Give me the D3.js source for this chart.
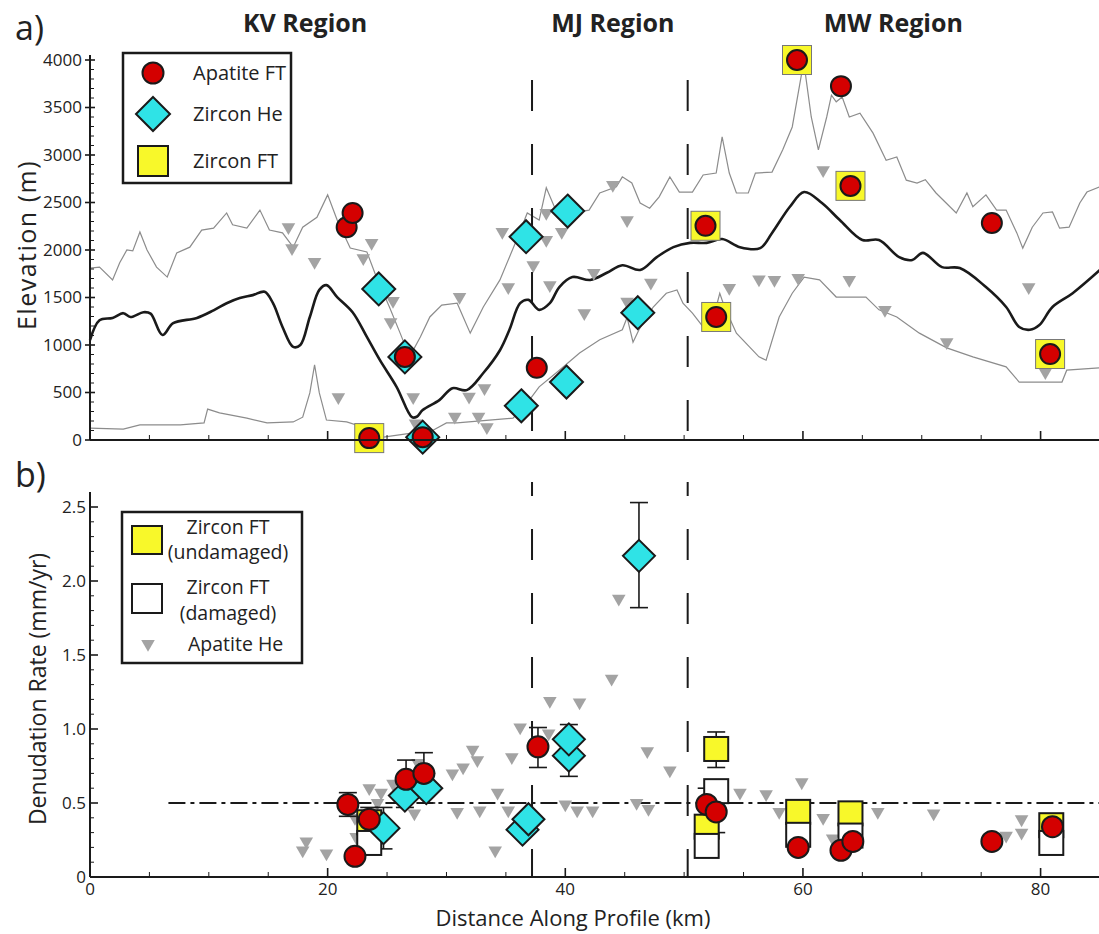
<!DOCTYPE html>
<html>
<head>
<meta charset="utf-8">
<script src="https://cdn.jsdelivr.net/npm/d3@7"></script>
<style>
  body { margin: 0; background: #fff; }
  svg { display: block; }
  text { font-family: "Open Sans", sans-serif; fill: #222; }
</style>
</head>
<body>
<svg id="chart" width="1099" height="934"></svg>
<script>
// ---------- Data ----------
// Swath elevation profiles along the transect: [distance km, elevation m]
const meanProfile = [[0,1050],[0.8,1260],[1.9,1285],[2.8,1335],[3.4,1295],[4.5,1345],[5.1,1330],[6.1,1105],[7.0,1230],[9.0,1285],[10.4,1365],[11.5,1440],[12.6,1495],[13.7,1525],[14.7,1560],[15.4,1440],[16.2,1190],[17.1,980],[17.7,1000],[18.5,1295],[19.3,1580],[19.9,1630],[20.8,1505],[22.1,1345],[23.3,1085],[24.4,840],[25.8,560],[27.1,240],[27.5,245],[28.0,315],[29.4,420],[30.5,545],[31.7,525],[33.1,705],[34.5,945],[35.3,1160],[36.2,1440],[36.9,1475],[37.8,1370],[38.7,1440],[39.5,1610],[40.6,1715],[42.1,1685],[43.5,1760],[44.8,1840],[46.3,1790],[47.7,1925],[49.1,2030],[50.5,2075],[51.9,2075],[53.2,2115],[54.7,2030],[56.4,2020],[57.4,2180],[58.9,2455],[60.1,2610],[61.6,2495],[63.1,2315],[65.0,2105],[66.4,2105],[68.1,1925],[69.2,1895],[70.1,1970],[71.7,1820],[73.2,1810],[75.4,1610],[77.1,1400],[78.2,1190],[79.1,1160],[79.9,1210],[81.0,1400],[82.7,1545],[85,1790]];
const maxProfile = [[0,1810],[0.8,1820],[1.9,1685],[2.5,1865],[3.1,2000],[3.6,1990],[4.2,2190],[4.8,2000],[5.6,1820],[6.5,1715],[7.3,1970],[8.4,2030],[9.4,2210],[10.4,2230],[11.5,2390],[12.0,2265],[13.2,2230],[14.3,2420],[15.1,2210],[16.2,2180],[17.1,2030],[17.9,2240],[19.1,2345],[20.0,2580],[20.8,2315],[21.9,2020],[23.3,1980],[24.1,1715],[25.2,1400],[26.1,1125],[26.9,875],[27.8,1085],[28.6,1295],[29.6,1420],[30.9,1440],[32.0,1125],[33.1,1400],[34.5,1685],[35.9,2105],[36.8,2390],[37.8,2315],[38.4,2655],[39.3,2390],[40.6,2390],[42.0,2420],[42.9,2600],[44.3,2665],[44.8,2770],[45.6,2705],[46.3,2495],[47.1,2440],[47.9,2560],[48.8,2770],[49.6,2610],[50.7,2610],[51.6,2790],[52.7,2810],[53.2,3190],[53.8,2810],[54.4,2600],[55.4,2600],[56.0,2810],[57.4,2820],[58.3,3055],[59.1,3295],[59.9,3865],[60.2,3860],[60.7,3400],[61.3,3055],[62.0,3400],[62.4,3630],[62.8,3560],[63.3,3610],[63.9,3400],[64.8,3440],[65.9,3230],[67.0,2945],[67.9,2980],[68.7,2735],[69.6,2705],[70.3,2740],[71.2,2600],[72.9,2390],[73.8,2600],[74.3,2455],[75.4,2580],[76.3,2420],[77.1,2420],[78.0,2180],[78.5,2020],[79.3,2240],[80.2,2390],[81.0,2400],[81.6,2230],[82.4,2240],[83.3,2495],[83.9,2610],[85,2665]];
const minProfile = [[0,125],[2.8,115],[4.2,160],[7.6,160],[9.6,180],[9.9,325],[10.9,285],[13.2,230],[14.9,180],[17.1,190],[17.9,240],[18.5,495],[18.9,790],[19.3,495],[19.9,210],[21.6,190],[23.0,135],[23.5,55],[24.7,30],[27.2,75],[28.6,85],[30.0,180],[30.9,180],[33.6,210],[35.6,230],[36.8,390],[37.8,560],[39.5,735],[41.2,915],[42.9,1055],[44.8,1160],[45.2,1290],[45.7,1030],[46.2,1160],[47.4,1400],[48.5,1545],[49.4,1580],[49.9,1440],[50.7,1335],[51.6,1190],[52.7,1400],[53.0,1545],[53.4,1400],[54.4,1125],[55.5,980],[56.3,875],[56.9,840],[58.0,1295],[59.1,1545],[60.1,1715],[61.4,1685],[62.8,1505],[65.3,1505],[66.4,1370],[67.9,1295],[69.8,1125],[72.1,970],[74.3,875],[77.1,770],[78.2,610],[81.8,610],[82.2,735],[85,760]];

// Thermochronometer sample elevations: [distance km, elevation m]
const apatiteFTElev = [[21.6,2240],[22.1,2390],[23.5,20],[26.5,875],[28.0,30],[37.6,760],[51.8,2255],[52.7,1295],[59.5,4000],[63.2,3725],[64.0,2675],[75.9,2285],[80.8,905]];
const zirconHeElev  = [[24.3,1590],[26.5,875],[28.0,30],[36.3,360],[36.7,2140],[40.1,610],[40.2,2410],[46.1,1340]];
const zirconFTElev  = [[23.5,20],[51.8,2255],[52.7,1295],[59.5,4000],[64.0,2675],[80.8,905]];
const apatiteHeElev = [[16.7,2240],[17.0,2020],[18.9,1875],[20.9,450],[23.0,1915],[23.7,2075],[25.3,1240],[25.5,1465],[27.2,450],[27.4,175],[30.7,245],[31.1,1505],[31.9,455],[32.7,245],[33.2,545],[33.4,135],[34.7,2190],[35.2,1610],[37.3,1840],[38.4,2390],[38.4,2105],[38.7,1630],[39.7,2190],[41.6,1335],[42.4,1760],[44.0,2685],[45.2,2315],[45.2,1455],[47.2,1655],[53.8,1600],[56.3,1690],[57.6,1685],[59.6,1705],[61.7,2840],[63.9,1685],[66.9,1370],[72.1,1030],[79.0,1610],[80.4,715]];

// Denudation rates: [distance km, rate mm/yr, low, high]
const apatiteFTRate = [[21.7,0.49,0.41,0.57],[22.3,0.14,0.14,0.14],[23.5,0.39,0.30,0.47],[26.6,0.66,0.53,0.79],[28.1,0.70,0.56,0.84],[37.7,0.88,0.74,1.01],[51.9,0.49,0.37,0.60],[52.7,0.44,0.30,0.575],[59.6,0.20,0.20,0.20],[63.2,0.18,0.18,0.18],[64.2,0.24,0.24,0.24],[75.9,0.24,0.24,0.24],[81.0,0.34,0.34,0.34]];
const zirconHeRate  = [[24.7,0.33,0.19,0.47],[26.5,0.55,0.47,0.63],[28.3,0.60,0.50,0.70],[36.4,0.32,0.32,0.32],[36.9,0.39,0.39,0.39],[40.3,0.82,0.68,0.92],[40.3,0.93,0.83,1.03],[46.2,2.17,1.82,2.53]];
const zirconFTUndamagedRate = [[23.5,0.37,0.37,0.37],[51.9,0.34,0.34,0.34],[52.7,0.865,0.74,0.98],[59.6,0.44,0.44,0.44],[64.0,0.43,0.43,0.43],[80.9,0.35,0.35,0.35]];
const zirconFTDamagedRate   = [[23.5,0.23,0.23,0.23],[51.9,0.21,0.21,0.21],[52.7,0.58,0.58,0.58],[59.6,0.285,0.285,0.285],[64.0,0.28,0.28,0.28],[80.9,0.23,0.23,0.23]];
const apatiteHeRate = [[17.9,0.18],[18.2,0.24],[19.9,0.16],[22.3,0.40],[22.4,0.27],[23.5,0.60],[24.2,0.50],[24.5,0.57],[25.5,0.63],[27.3,0.43],[27.6,0.77],[30.5,0.70],[30.9,0.44],[31.4,0.74],[32.2,0.86],[32.6,0.79],[32.8,0.45],[34.1,0.18],[34.3,0.57],[35.2,0.45],[35.5,0.81],[36.2,1.01],[38.6,0.97],[38.7,1.19],[40.0,0.49],[41.0,0.45],[41.2,1.18],[42.3,0.45],[43.9,1.34],[44.5,1.88],[46.0,0.50],[46.9,0.85],[47.0,0.46],[48.8,0.72],[54.7,0.57],[56.9,0.56],[58.0,0.44],[59.9,0.64],[61.7,0.40],[62.5,0.26],[66.3,0.44],[71.0,0.43],[77.1,0.28],[78.4,0.39],[78.4,0.30]];

// Region boundaries and labels
const regionBounds = [37.2, 50.3];
const regionNames = ["KV Region", "MJ Region", "MW Region"];
const regionLabelKm = [18.1, 44.0, 67.6];
// Reference denudation rate line
const refRate = 0.5;
const refStartKm = 6.6;

// Axis ticks
const elevTicks = [0,500,1000,1500,2000,2500,3000,3500,4000];
const rateTicks = [0,0.5,1.0,1.5,2.0,2.5];
const distTicks = [0,20,40,60,80];

// ---------- Layout ----------
const svg = d3.select("#chart");
const x = d3.scaleLinear().domain([0, 85]).range([90, 1100]);
const yTop = d3.scaleLinear().domain([0, 4000]).range([440, 60]);
const yBot = d3.scaleLinear().domain([0, 2.5]).range([877, 507]);

const RED = "#d40000", CYAN = "#2fe3e6", YELLOW = "#f8f82a", GRAY = "#a3a3a3", INK = "#1a1a1a";

const diamond = r => `M0,${-r}L${r},0L0,${r}L${-r},0Z`;
const triDown = d3.symbol().type(d3.symbolTriangle).size(80);

// ---------- Axes helpers ----------
function yAxis(scale, ticks, fmt, top, majIn, majOut, pad) {
  const g = svg.append("g").attr("transform", "translate(90,0)");
  const [d0, d1] = scale.domain();
  const step = (ticks[1] - ticks[0]) / 5;
  const minor = d3.range(0, Math.round((d1 - d0) / step) + 1).map(i => d0 + i * step)
    .filter(v => !ticks.some(t => Math.abs(t - v) < step / 10));
  g.selectAll(".mn").data(minor).join("line")
    .attr("x1", 0).attr("x2", 4).attr("y1", d => scale(d)).attr("y2", d => scale(d))
    .attr("stroke", INK).attr("stroke-width", 1);
  g.selectAll(".mj").data(ticks).join("line")
    .attr("x1", -majOut).attr("x2", majIn).attr("y1", d => scale(d)).attr("y2", d => scale(d))
    .attr("stroke", INK).attr("stroke-width", 1.6);
  g.selectAll(".lb").data(ticks).join("text")
    .attr("x", -pad).attr("y", d => scale(d)).attr("dy", "0.35em")
    .attr("text-anchor", "end").attr("font-size", 17).text(fmt);
  g.append("line").attr("x1", 0).attr("x2", 0).attr("y1", scale(0)).attr("y2", top)
    .attr("stroke", INK).attr("stroke-width", 2);
}
function xAxis(yPos, labels) {
  const g = svg.append("g").attr("transform", `translate(0,${yPos})`);
  const minor = d3.range(0, 86, 5).filter(v => v % 20 !== 0);
  g.selectAll(".mn").data(minor).join("line")
    .attr("x1", d => x(d)).attr("x2", d => x(d)).attr("y1", 0).attr("y2", -5)
    .attr("stroke", INK).attr("stroke-width", 1);
  g.selectAll(".mj").data(distTicks).join("line")
    .attr("x1", d => x(d)).attr("x2", d => x(d)).attr("y1", 0).attr("y2", -9)
    .attr("stroke", INK).attr("stroke-width", 1.6);
  if (labels) {
    g.selectAll(".lb").data(distTicks).join("text")
      .attr("x", d => x(d)).attr("y", 18).attr("text-anchor", "middle")
      .attr("font-size", 17).text(d => d);
  }
  g.append("line").attr("x1", 90).attr("x2", 1099).attr("y1", 0).attr("y2", 0)
    .attr("stroke", INK).attr("stroke-width", 2);
}

// ---------- Panel a: elevation ----------
const lineTop = d3.line().x(d => x(d[0])).y(d => yTop(d[1]));
svg.append("path").datum(maxProfile).attr("d", lineTop)
  .attr("fill", "none").attr("stroke", "#8c8c8c").attr("stroke-width", 1.2);
svg.append("path").datum(minProfile).attr("d", lineTop)
  .attr("fill", "none").attr("stroke", "#8c8c8c").attr("stroke-width", 1.2);
svg.append("path").datum(meanProfile).attr("d", lineTop.curve(d3.curveCatmullRom))
  .attr("fill", "none").attr("stroke", INK).attr("stroke-width", 2.6);

// region boundaries
regionBounds.forEach(k => {
  svg.append("line").attr("x1", x(k)).attr("x2", x(k)).attr("y1", 80).attr("y2", 440)
    .attr("stroke", INK).attr("stroke-width", 2).attr("stroke-dasharray", "31,33");
  svg.append("line").attr("x1", x(k)).attr("x2", x(k)).attr("y1", 482).attr("y2", 877)
    .attr("stroke", INK).attr("stroke-width", 2).attr("stroke-dasharray", "31,33")
    .attr("stroke-dashoffset", 17);
});

svg.selectAll(".ahe").data(apatiteHeElev).join("path")
  .attr("d", triDown).attr("transform", d => `translate(${x(d[0])},${yTop(d[1])}) rotate(180)`)
  .attr("fill", GRAY);
svg.selectAll(".zft").data(zirconFTElev).join("rect")
  .attr("x", d => x(d[0]) - 14.5).attr("y", d => yTop(d[1]) - 14.5)
  .attr("width", 29).attr("height", 29)
  .attr("fill", YELLOW).attr("stroke", "#777").attr("stroke-width", 1);
svg.selectAll(".zhe").data(zirconHeElev).join("path")
  .attr("d", diamond(16.5)).attr("transform", d => `translate(${x(d[0])},${yTop(d[1])})`)
  .attr("fill", CYAN).attr("stroke", INK).attr("stroke-width", 2);
svg.selectAll(".aft").data(apatiteFTElev).join("circle")
  .attr("cx", d => x(d[0])).attr("cy", d => yTop(d[1])).attr("r", 10)
  .attr("fill", RED).attr("stroke", INK).attr("stroke-width", 2);

yAxis(yTop, elevTicks, d => d, 55, 5, 5, 8);
xAxis(440, false);

// legend a
const lgA = svg.append("g");
lgA.append("rect").attr("x", 123).attr("y", 53).attr("width", 168).attr("height", 130)
  .attr("fill", "#fff").attr("stroke", INK).attr("stroke-width", 2.5);
lgA.append("circle").attr("cx", 153).attr("cy", 73).attr("r", 10.5)
  .attr("fill", RED).attr("stroke", INK).attr("stroke-width", 2);
lgA.append("path").attr("d", diamond(17)).attr("transform", "translate(153,114)")
  .attr("fill", CYAN).attr("stroke", INK).attr("stroke-width", 2);
lgA.append("rect").attr("x", 138).attr("y", 146).attr("width", 30).attr("height", 30)
  .attr("fill", YELLOW).attr("stroke", INK).attr("stroke-width", 2);
[["Apatite FT", 73], ["Zircon He", 114], ["Zircon FT", 161]].forEach(([t, yy]) =>
  lgA.append("text").attr("x", 193).attr("y", yy).attr("dy", "0.35em").attr("font-size", 20).text(t));

// ---------- Panel b: denudation rate ----------
svg.append("line").attr("x1", x(refStartKm)).attr("x2", 1099)
  .attr("y1", yBot(refRate)).attr("y2", yBot(refRate))
  .attr("stroke", INK).attr("stroke-width", 2).attr("stroke-dasharray", "17,5,4,5");

svg.selectAll(".bhe").data(apatiteHeRate).join("path")
  .attr("d", triDown).attr("transform", d => `translate(${x(d[0])},${yBot(d[1])}) rotate(180)`)
  .attr("fill", GRAY);

function errorBars(data) {
  const g = svg.append("g").attr("stroke", INK).attr("stroke-width", 1.6);
  data.filter(d => d[3] > d[2]).forEach(d => {
    const cx = x(d[0]);
    g.append("line").attr("x1", cx).attr("x2", cx).attr("y1", yBot(d[2])).attr("y2", yBot(d[3]));
    g.append("line").attr("x1", cx - 9).attr("x2", cx + 9).attr("y1", yBot(d[2])).attr("y2", yBot(d[2]));
    g.append("line").attr("x1", cx - 9).attr("x2", cx + 9).attr("y1", yBot(d[3])).attr("y2", yBot(d[3]));
  });
}
errorBars(zirconFTUndamagedRate);
errorBars(zirconFTDamagedRate);
errorBars(zirconHeRate);
errorBars(apatiteFTRate);

svg.selectAll(".bzu").data(zirconFTUndamagedRate).join("rect")
  .attr("x", d => x(d[0]) - 12).attr("y", d => yBot(d[1]) - 12)
  .attr("width", 24).attr("height", 24)
  .attr("fill", YELLOW).attr("stroke", INK).attr("stroke-width", 2);
svg.selectAll(".bzd").data(zirconFTDamagedRate).join("rect")
  .attr("x", d => x(d[0]) - 12).attr("y", d => yBot(d[1]) - 12)
  .attr("width", 24).attr("height", 24)
  .attr("fill", "#fff").attr("stroke", INK).attr("stroke-width", 2);
svg.selectAll(".bzh").data(zirconHeRate).join("path")
  .attr("d", diamond(16)).attr("transform", d => `translate(${x(d[0])},${yBot(d[1])})`)
  .attr("fill", CYAN).attr("stroke", INK).attr("stroke-width", 2);
svg.selectAll(".baf").data(apatiteFTRate).join("circle")
  .attr("cx", d => x(d[0])).attr("cy", d => yBot(d[1])).attr("r", 10.5)
  .attr("fill", RED).attr("stroke", INK).attr("stroke-width", 2);

yAxis(yBot, rateTicks, d => d === 0 ? "0" : d.toFixed(1), 492, 8, 0, 4);
xAxis(877, true);

// legend b
const lgB = svg.append("g");
lgB.append("rect").attr("x", 122).attr("y", 512).attr("width", 180).attr("height", 151)
  .attr("fill", "#fff").attr("stroke", INK).attr("stroke-width", 2.5);
lgB.append("rect").attr("x", 132).attr("y", 526).attr("width", 30).attr("height", 28)
  .attr("fill", YELLOW).attr("stroke", INK).attr("stroke-width", 2);
lgB.append("rect").attr("x", 132).attr("y", 584).attr("width", 30).attr("height", 29)
  .attr("fill", "#fff").attr("stroke", INK).attr("stroke-width", 2);
lgB.append("path").attr("d", triDown).attr("transform", "translate(148,644) rotate(180)").attr("fill", GRAY);
[["Zircon FT", 527], ["(undamaged)", 552], ["Zircon FT", 587], ["(damaged)", 613]].forEach(([t, yy]) =>
  lgB.append("text").attr("x", 228).attr("y", yy).attr("dy", "0.35em")
    .attr("text-anchor", "middle").attr("font-size", 19.5).text(t));
lgB.append("text").attr("x", 188).attr("y", 644).attr("dy", "0.35em").attr("font-size", 19.5).text("Apatite He");

// ---------- Titles ----------
regionNames.forEach((n, i) =>
  svg.append("text").attr("x", x(regionLabelKm[i])).attr("y", 32).attr("text-anchor", "middle")
    .attr("font-size", 25).attr("font-weight", "bold").text(n));
svg.append("text").attr("x", 15).attr("y", 40).attr("font-size", 34).text("a)");
svg.append("text").attr("x", 15).attr("y", 487).attr("font-size", 34).text("b)");
svg.append("text").attr("transform", "translate(27,245) rotate(-90)").attr("text-anchor", "middle")
  .attr("dy", "0.35em").attr("font-size", 25).attr("letter-spacing", 1.5).text("Elevation (m)");
svg.append("text").attr("transform", "translate(38,689) rotate(-90)").attr("text-anchor", "middle")
  .attr("dy", "0.35em").attr("font-size", 23).text("Denudation Rate (mm/yr)");
svg.append("text").attr("x", 573).attr("y", 926).attr("text-anchor", "middle")
  .attr("font-size", 22).text("Distance Along Profile (km)");
</script>
</body>
</html>
